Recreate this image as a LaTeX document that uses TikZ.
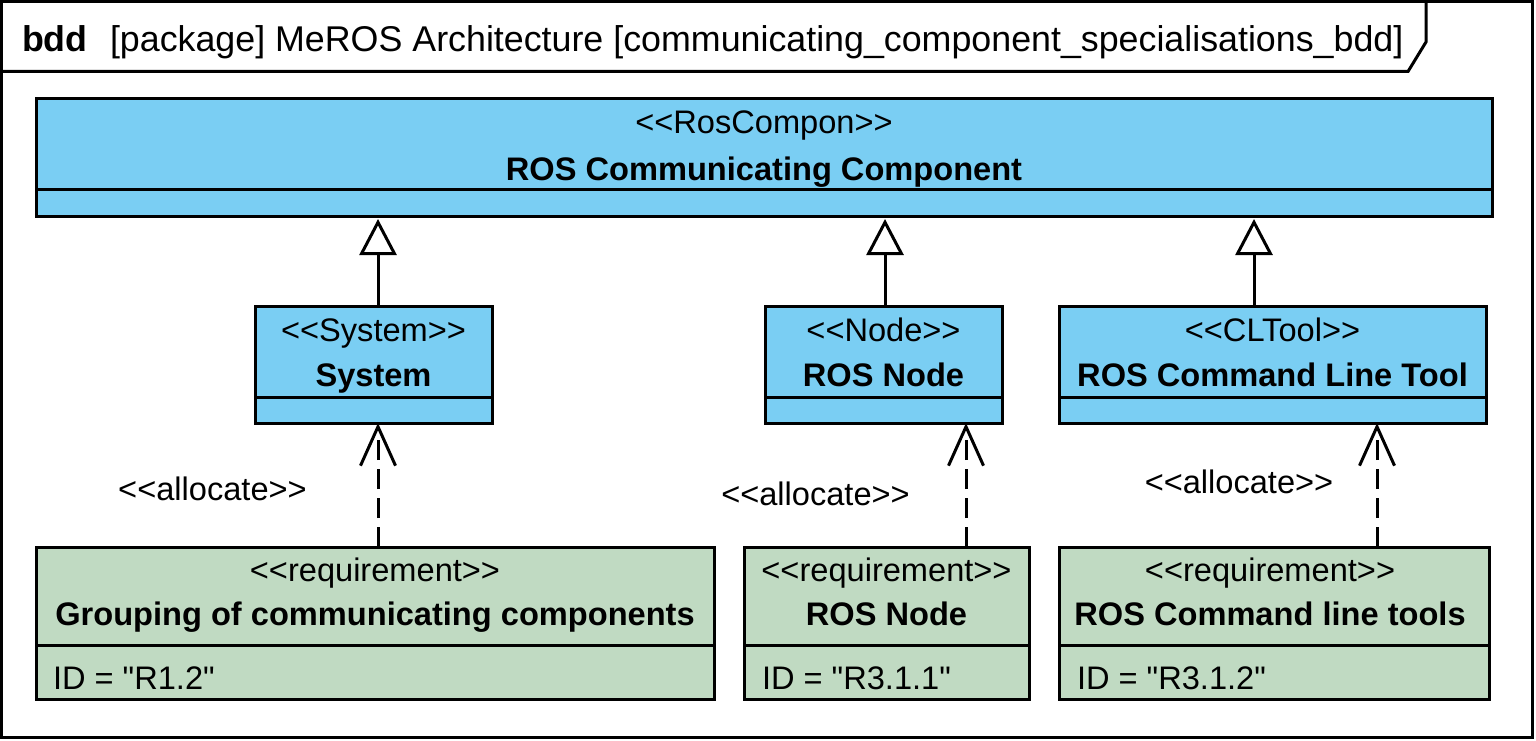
\documentclass[tikz,border=0pt]{standalone}
\usepackage{fontspec}
\setmainfont{Liberation Sans}[Ligatures=TeXOff]
\usetikzlibrary{arrows.meta}
\definecolor{blockblue}{RGB}{122,206,243}
\definecolor{reqgreen}{RGB}{192,218,194}
\begin{document}
\begin{tikzpicture}[x=1pt,y=-1pt,
  every node/.style={inner sep=0pt, outer sep=0pt},
  box/.style={draw=black, line width=3pt, rectangle, anchor=north west},
  bluebox/.style={box, fill=blockblue},
  reqbox/.style={box, fill=reqgreen},
  divider/.style={line width=3pt},
  txt/.style={font=\fontsize{32.6}{39}\selectfont, anchor=base},
  boldtxt/.style={font=\fontsize{32.6}{39}\selectfont\bfseries, anchor=base},
  idtxt/.style={font=\fontsize{32.6}{39}\selectfont, anchor=base west},
  titletxt/.style={font=\fontsize{35.8}{42}\selectfont, anchor=base west},
  titlebold/.style={font=\fontsize{35.8}{42}\selectfont\bfseries, anchor=base west},
  frameline/.style={line width=3pt},
  genline/.style={line width=3pt, shorten >=3pt, -{Triangle[open, length=36pt, width=37pt, line width=3pt]}},
  depline/.style={line width=3pt, dash pattern=on 20pt off 9pt, -{Straight Barb[length=39pt, width=35pt, line width=3pt]}}
]
\useasboundingbox (0,0) rectangle (1536,741);

% frame
\draw[frameline] (1.5,1.5) rectangle (1532,737.5);
\draw[frameline] (1.5,71.5) -- (1408,71.5) -- (1426,42) -- (1426,1.5);
\node[titlebold] (ttlkind) at (22,52) {bdd};
\node[titletxt] (ttl) at (110,52) {[package] MeROS Architecture [communicating\_component\_specialisations\_bdd]};

% top block
\node[bluebox, minimum width=1456pt, minimum height=117pt] (rcc) at (36,99) {};
\draw[divider] ([yshift=27pt]rcc.south west) -- ([yshift=27pt]rcc.south east);
\node[txt] (rccs) at (764,134) {<<RosCompon>>};
\node[boldtxt] (rccn) at (764,180) {ROS Communicating Component};

% middle blocks
\node[bluebox, minimum width=237pt, minimum height=117pt] (sys) at (255,306) {};
\draw[divider] ([yshift=26pt]sys.south west) -- ([yshift=26pt]sys.south east);
\node[txt] (syss) at (373.5,341) {<<System>>};
\node[boldtxt] (sysn) at (373.5,386) {System};

\node[bluebox, minimum width=237pt, minimum height=117pt] (rnode) at (765,306) {};
\draw[divider] ([yshift=26pt]rnode.south west) -- ([yshift=26pt]rnode.south east);
\node[txt] (rnodes) at (883.5,341) {<<Node>>};
\node[boldtxt] (rnoden) at (883.5,386) {ROS Node};

\node[bluebox, minimum width=427pt, minimum height=117pt] (cli) at (1059,306) {};
\draw[divider] ([yshift=26pt]cli.south west) -- ([yshift=26pt]cli.south east);
\node[txt] (clis) at (1272.5,341) {<<CLTool>>};
\node[boldtxt] (clin) at (1272.5,386) {ROS Command Line Tool};

% requirements
\node[reqbox, minimum width=678pt, minimum height=152pt] (req1) at (36,547) {};
\draw[divider] ([yshift=54pt]req1.south west) -- ([yshift=54pt]req1.south east);
\node[txt] (req1s) at (375,581) {<<requirement>>};
\node[boldtxt] (req1n) at (375,625) {Grouping of communicating components};
\node[idtxt] (req1id) at (53,689) {ID = "R1.2"};

\node[reqbox, minimum width=285pt, minimum height=152pt] (req2) at (744,547) {};
\draw[divider] ([yshift=54pt]req2.south west) -- ([yshift=54pt]req2.south east);
\node[txt] (req2s) at (886.5,581) {<<requirement>>};
\node[boldtxt] (req2n) at (886.5,625) {ROS Node};
\node[idtxt] (req2id) at (762,689) {ID = "R3.1.1"};

\node[reqbox, minimum width=430pt, minimum height=152pt] (req3) at (1059,547) {};
\draw[divider] ([yshift=54pt]req3.south west) -- ([yshift=54pt]req3.south east);
\node[txt] (req3s) at (1270,581) {<<requirement>>};
\node[boldtxt] (req3n) at (1270,625) {ROS Command line tools};
\node[idtxt] (req3id) at (1077,689) {ID = "R3.1.2"};

% generalizations
\coordinate (g1) at (378,0);
\coordinate (g2) at (885,0);
\coordinate (g3) at (1254,0);
\draw[genline] (sys.north -| g1) -- (rcc.south -| g1);
\draw[genline] (rnode.north -| g2) -- (rcc.south -| g2);
\draw[genline] (cli.north -| g3) -- (rcc.south -| g3);

% allocations
\coordinate (d1) at (378,0);
\coordinate (d2) at (966,0);
\coordinate (d3) at (1377,0);
\draw[depline] (req1.north -| d1) -- (sys.south -| d1);
\draw[depline] (req2.north -| d2) -- (rnode.south -| d2);
\draw[depline] (req3.north -| d3) -- (cli.south -| d3);
\node[txt] (al1) at (212.5,500) {<<allocate>>};
\node[txt] (al2) at (815.5,505) {<<allocate>>};
\node[txt] (al3) at (1239,493) {<<allocate>>};
\end{tikzpicture}
\end{document}
